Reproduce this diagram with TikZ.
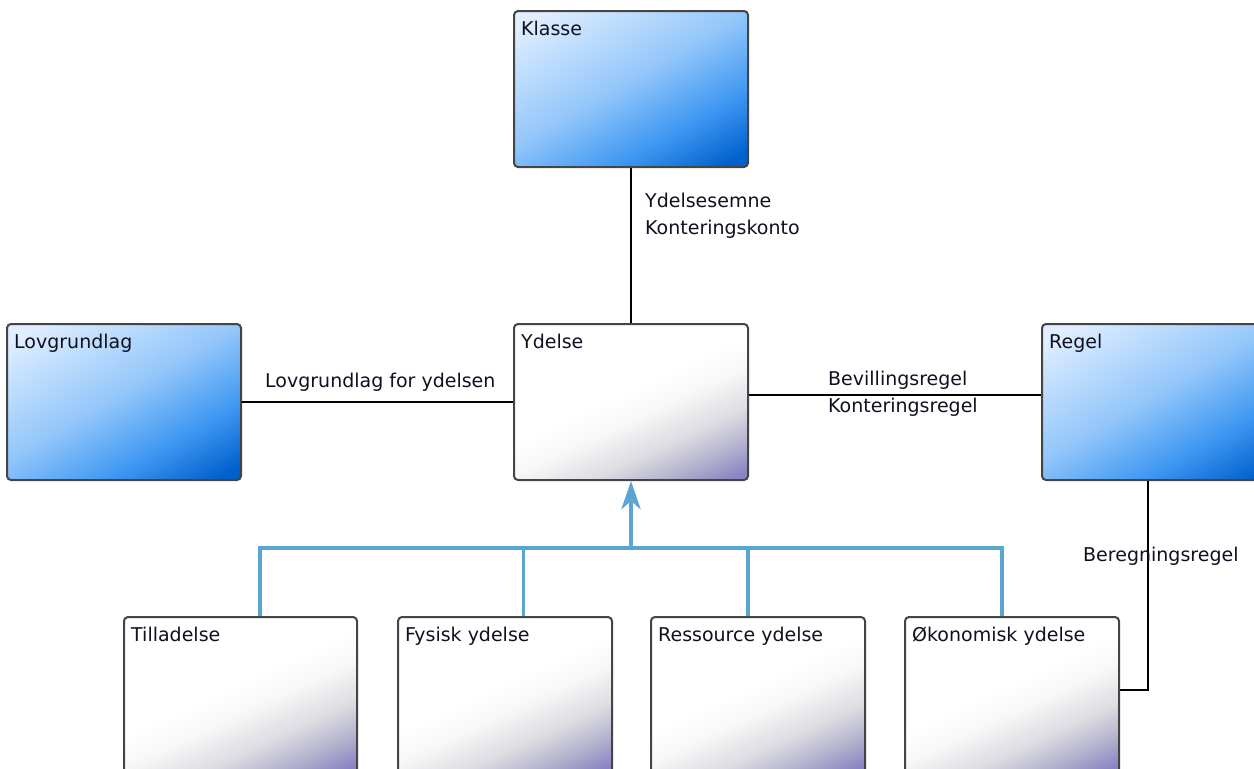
\documentclass[tikz,border=0pt]{standalone}
\usepackage{fontspec}
\setmainfont{DejaVu Sans}
\usetikzlibrary{arrows.meta,shadings}
\definecolor{boxborder}{HTML}{454545}
\definecolor{txt}{HTML}{101020}
\definecolor{genblue}{HTML}{5AA5D2}
\definecolor{bdark}{HTML}{0060CC}
\definecolor{bmid2}{HTML}{3F98F2}
\definecolor{bmid}{HTML}{92C6FA}
\definecolor{blight}{HTML}{E0EEFF}
\definecolor{wpur}{HTML}{8A84C4}
\definecolor{wgp}{HTML}{B6B4CE}
\definecolor{wg}{HTML}{DCDCE2}
\definecolor{wl}{HTML}{F7F7F7}
\pgfdeclareverticalshading{bluegrad}{100bp}{color(0bp)=(bdark); color(19bp)=(bdark); color(34bp)=(bmid2); color(52bp)=(bmid); color(80bp)=(blight); color(100bp)=(blight)}
\pgfdeclareverticalshading{whitegrad}{100bp}{color(0bp)=(wpur); color(19bp)=(wpur); color(27bp)=(wgp); color(35bp)=(wg); color(45bp)=(wl); color(53bp)=(white); color(100bp)=(white)}
\begin{document}
\begin{tikzpicture}[x=1pt,y=-1pt,
  txtfont/.style={font=\fontsize{19pt}{27pt}\selectfont, text=txt},
  box/.style={draw=boxborder, line width=2pt, rounded corners=4pt, minimum width=234pt, minimum height=156pt, inner sep=0pt, shade},
  bluebox/.style={box, shading=bluegrad, shading angle=30},
  whitebox/.style={box, shading=whitegrad, shading angle=25},
  title/.style={txtfont, anchor=base west, inner sep=0pt, xshift=8pt, yshift=-25pt},
  elabel/.style={txtfont, inner sep=0pt},
  conn/.style={draw=black, line width=1.8pt},
  gen/.style={draw=genblue, line width=3.2pt},
  genarrow/.style={draw=genblue, line width=4.5pt, -{Stealth[length=28pt,width=19pt,inset=8pt]}}
]
\useasboundingbox (0,0) rectangle (1254,769);
\clip (0,0) rectangle (1254,769);

\node[bluebox, label={[title]north west:Klasse}] (klasse) at (631,89) {};
\node[whitebox, label={[title]north west:Ydelse}] (ydelse) at (631,402) {};
\node[bluebox, label={[title]north west:Lovgrundlag}] (lov) at (124,402) {};
\node[bluebox, label={[title]north west:Regel}] (regel) at (1159,402) {};
\node[whitebox, minimum width=233pt, label={[title]north west:Tilladelse}] (till) at (240.5,695) {};
\node[whitebox, minimum width=214pt, label={[title]north west:Fysisk ydelse}] (fys) at (505,695) {};
\node[whitebox, minimum width=214pt, label={[title]north west:Ressource ydelse}] (res) at (758,695) {};
\node[whitebox, minimum width=214pt, label={[title]north west:Økonomisk ydelse}] (oko) at (1012,695) {};

\draw[conn] (klasse) -- (ydelse);
\draw[conn] (lov) -- (ydelse);
\draw[conn] ([yshift=7pt]ydelse.east) -- ([yshift=7pt]regel.west);
\draw[conn] ([xshift=-11pt]regel.south) |- ([yshift=5pt]oko.east);

\coordinate (bus) at (631,548);
\draw[gen] ([xshift=19.5pt]till.north) |- (bus);
\draw[gen] ([xshift=18.5pt]fys.north) |- (bus);
\draw[gen] ([xshift=-10pt]res.north) |- (bus);
\draw[gen] ([xshift=-10pt]oko.north) |- (bus);
\draw[genarrow] (bus) -- (ydelse.south);

\node[elabel, anchor=north west, align=left] (lklasse) at (645,193) {Ydelsesemne\\Konteringskonto};
\node[elabel, anchor=base west] (llov) at (265,387) {Lovgrundlag for ydelsen};
\node[elabel, anchor=north west, align=left] (lregel) at (828,371) {Bevillingsregel\\Konteringsregel};
\node[elabel, anchor=base west] (lbereg) at (1083,561) {Beregningsregel};
\end{tikzpicture}
\end{document}
